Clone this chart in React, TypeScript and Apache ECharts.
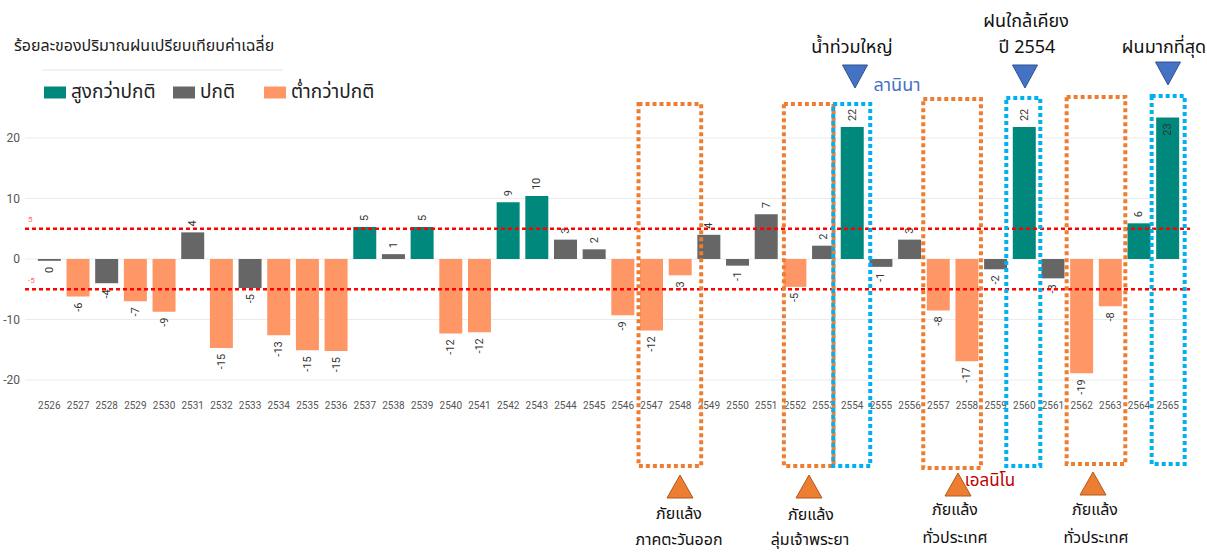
import React, { useEffect, useRef } from 'react';
import * as echarts from 'echarts';

// ---------------- data ----------------
const years = [
  '2526', '2527', '2528', '2529', '2530', '2531', '2532', '2533', '2534', '2535',
  '2536', '2537', '2538', '2539', '2540', '2541', '2542', '2543', '2544', '2545',
  '2546', '2547', '2548', '2549', '2550', '2551', '2552', '2553', '2554', '2555',
  '2556', '2557', '2558', '2559', '2560', '2561', '2562', '2563', '2564', '2565',
];
const rainPct = [
  -0.3, -6.2, -4.0, -7.0, -8.7, 4.4, -14.7, -4.8, -12.6, -15.1,
  -15.2, 5.3, 0.8, 5.3, -12.3, -12.1, 9.4, 10.4, 3.2, 1.6,
  -9.3, -11.8, -2.7, 4.0, -1.1, 7.4, -4.6, 2.2, 21.8, -1.3,
  3.2, -8.5, -16.9, -1.7, 21.8, -3.2, -18.9, -7.8, 5.9, 23.4,
];
// H = above normal, N = normal, L = below normal
const rainClass = [
  'N', 'L', 'N', 'L', 'L', 'N', 'L', 'N', 'L', 'L',
  'L', 'H', 'N', 'H', 'L', 'L', 'H', 'H', 'N', 'N',
  'L', 'L', 'L', 'N', 'N', 'N', 'L', 'N', 'H', 'N',
  'N', 'L', 'L', 'N', 'H', 'N', 'L', 'L', 'H', 'H',
];
const insideLabelYears = ['2565'];
const seriesDefs = [
  { key: 'H', name: 'สูงกว่าปกติ' },
  { key: 'N', name: 'ปกติ' },
  { key: 'L', name: 'ต่ำกว่าปกติ' },
];
const yTicks = [-20, -10, 0, 10, 20];
const thresholds = [5, -5];
const chartTitle = 'ร้อยละของปริมาณฝนเปรียบเทียบค่าเฉลี่ย';

// ---------------- styles / layout ----------------
const COLORS: Record<string, string> = { H: '#01887C', N: '#666666', L: '#FE9666' };
const ORANGE = '#ED7D31';
const CYAN = '#00B0F0';
const BLUE = '#4472C4';
const THAI = "'Noto Sans Thai', 'Noto Sans Thai UI', Loma, Garuda, 'Noto Sans', sans-serif";
const NUM = "Roboto, 'DejaVu Sans Condensed', sans-serif";
const legendLefts = [39, 168, 259];

const annotationBoxes = [
  { from: '2547', to: '2548', color: ORANGE, top: 104, bottom: 466, padL: 13, padR: 21 },
  { from: '2552', to: '2553', color: ORANGE, top: 104, bottom: 466, padL: 11, padR: 10 },
  { from: '2554', to: '2554', color: CYAN, top: 104, bottom: 466, padL: 19, padR: 18 },
  { from: '2557', to: '2558', color: ORANGE, top: 99, bottom: 468, padL: 15, padR: 14 },
  { from: '2560', to: '2560', color: CYAN, top: 98, bottom: 466, padL: 18, padR: 16 },
  { from: '2562', to: '2563', color: ORANGE, top: 97, bottom: 464, padL: 15, padR: 15 },
  { from: '2565', to: '2565', color: CYAN, top: 96, bottom: 464, padL: 16, padR: 17 },
];

const downTriangles = [
  { x: 855, y: 65 },
  { x: 1025, y: 65 },
  { x: 1168, y: 62 },
];
const upTriangles = [
  { x: 680, y: 475 },
  { x: 809, y: 475 },
  { x: 958, y: 473 },
  { x: 1093, y: 472 },
];
const texts = [
  { t: 'น้ำท่วมใหญ่', x: 852, y: 47, color: '#111', size: 18 },
  { t: 'ฝนใกล้เคียง', x: 1026, y: 21, color: '#111', size: 18 },
  { t: 'ปี 2554', x: 1027, y: 47, color: '#111', size: 18 },
  { t: 'ฝนมากที่สุด', x: 1164, y: 47, color: '#111', size: 18 },
  { t: 'ลานินา', x: 897, y: 85, color: BLUE, size: 18 },
  { t: 'เอลนิโน', x: 990, y: 481, color: '#C00000', size: 17 },
  { t: 'ภัยแล้ง', x: 679, y: 514, color: '#111', size: 16 },
  { t: 'ภาคตะวันออก', x: 679, y: 540, color: '#111', size: 16 },
  { t: 'ภัยแล้ง', x: 811, y: 515, color: '#111', size: 16 },
  { t: 'ลุ่มเจ้าพระยา', x: 810, y: 540, color: '#111', size: 16 },
  { t: 'ภัยแล้ง', x: 955, y: 510, color: '#111', size: 16 },
  { t: 'ทั่วประเทศ', x: 955, y: 538, color: '#111', size: 16 },
  { t: 'ภัยแล้ง', x: 1095, y: 510, color: '#111', size: 16 },
  { t: 'ทั่วประเทศ', x: 1096, y: 538, color: '#111', size: 16 },
];

function labelFor(v: number, year: string) {
  const base = {
    show: true,
    rotate: 90,
    verticalAlign: 'middle',
    distance: 6,
    fontSize: 11,
    fontFamily: NUM,
    color: '#333',
    formatter: (p: any) => String(Math.round(Number(p.value)) || 0),
  };
  if (insideLabelYears.includes(year)) return { ...base, position: 'insideTop', align: 'right' };
  return v >= 0 ? { ...base, position: 'top', align: 'left' } : { ...base, position: 'bottom', align: 'right' };
}

function buildSeries() {
  return seriesDefs.map((s) => ({
    name: s.name,
    type: 'bar',
    stack: 'all',
    barWidth: 23,
    itemStyle: { color: COLORS[s.key] },
    data: years.map((y, i) =>
      rainClass[i] === s.key ? { value: rainPct[i], label: labelFor(rainPct[i], y) } : '-'
    ),
  }));
}

export default function App() {
  const ref = useRef<HTMLDivElement>(null);
  useEffect(() => {
    const chart = echarts.init(ref.current!, null, { renderer: 'svg' });
    chart.setOption({
      animation: false,
      color: [COLORS.H, COLORS.N, COLORS.L],
      title: {
        text: chartTitle,
        left: 9,
        top: 33,
        textStyle: { fontFamily: THAI, fontSize: 16, fontWeight: 'normal', color: '#222' },
      },
      legend: seriesDefs.map((s, i) => ({
        left: legendLefts[i],
        top: 78,
        icon: 'rect',
        itemWidth: 22,
        itemHeight: 12,
        textStyle: { fontFamily: THAI, fontSize: 19, color: '#222' },
        data: [s.name],
      })),
      grid: { left: 35, right: 25, top: 107.75, bottom: 174 },
      xAxis: {
        type: 'category',
        data: years,
        axisLine: { show: false },
        axisTick: { show: false },
        axisLabel: { interval: 0, fontSize: 10, fontFamily: NUM, color: '#555', margin: 20 },
      },
      yAxis: {
        type: 'value',
        min: -20,
        max: 25,
        interval: 10,
        splitLine: { show: false },
        axisLine: { show: false },
        axisTick: { show: false },
        axisLabel: { showMaxLabel: false, fontSize: 12, fontFamily: NUM, color: '#555', margin: 15 },
      },
      series: buildSeries(),
    });

    const px = (c: string) => chart.convertToPixel({ xAxisIndex: 0 }, c) as number;
    const py = (v: number) => chart.convertToPixel({ yAxisIndex: 0 }, v) as number;

    const graphics: any[] = [];
    yTicks.forEach((t) => {
      graphics.push({
        type: 'line',
        z: -1,
        silent: true,
        shape: { x1: 25, y1: py(t), x2: 1190, y2: py(t) },
        style: { stroke: '#ebebeb', lineWidth: 1 },
      });
    });
    graphics.push({
      type: 'line',
      silent: true,
      shape: { x1: 42, y1: 70, x2: 283, y2: 70 },
      style: { stroke: '#e6e6e6', lineWidth: 1 },
    });
    thresholds.forEach((t) => {
      const y = py(t);
      graphics.push({
        type: 'line',
        z: 50,
        silent: true,
        shape: { x1: 25, y1: y, x2: 1190, y2: y },
        style: { stroke: '#FF0000', lineWidth: 2.5, lineDash: [4, 3] },
      });
      graphics.push({
        type: 'text',
        z: 50,
        silent: true,
        style: {
          text: String(t),
          x: 28,
          y: y - 9,
          fill: '#FF6B6B',
          font: `8px ${NUM}`,
          align: 'left',
          verticalAlign: 'middle',
          textAlign: 'left',
          textVerticalAlign: 'middle',
        },
      });
    });
    annotationBoxes.forEach((b) => {
      const x1 = px(b.from) - b.padL;
      const x2 = px(b.to) + b.padR;
      graphics.push({
        type: 'rect',
        z: 100,
        silent: true,
        shape: { x: x1, y: b.top, width: x2 - x1, height: b.bottom - b.top },
        style: { fill: 'none', stroke: b.color, lineWidth: 4, lineDash: [4, 3] },
      });
    });
    downTriangles.forEach((t) => {
      graphics.push({
        type: 'polygon',
        z: 100,
        silent: true,
        shape: { points: [[t.x - 12.5, t.y], [t.x + 12.5, t.y], [t.x, t.y + 23]] },
        style: { fill: BLUE, stroke: '#2F528F', lineWidth: 1 },
      });
    });
    upTriangles.forEach((t) => {
      graphics.push({
        type: 'polygon',
        z: 100,
        silent: true,
        shape: { points: [[t.x - 13, t.y + 23], [t.x + 13, t.y + 23], [t.x, t.y]] },
        style: { fill: ORANGE, stroke: '#AE5A21', lineWidth: 1 },
      });
    });
    texts.forEach((t) => {
      graphics.push({
        type: 'text',
        z: 100,
        silent: true,
        style: {
          text: t.t,
          x: t.x,
          y: t.y,
          fill: t.color,
          font: `${t.size}px ${THAI}`,
          align: 'center',
          verticalAlign: 'middle',
          textAlign: 'center',
          textVerticalAlign: 'middle',
        },
      });
    });
    chart.setOption({ graphic: graphics });

    return () => chart.dispose();
  }, []);
  return (
    <div
      ref={ref}
      style={{ position: 'fixed', left: 0, top: 0, width: 1207, height: 554, background: '#fff' }}
    />
  );
}
